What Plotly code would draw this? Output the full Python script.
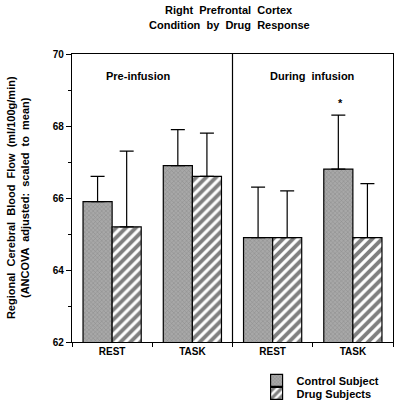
import plotly.graph_objects as go

conditions = ["REST", "TASK", "REST", "TASK"]
control_means = [65.9, 66.9, 64.9, 66.8]
control_err = [0.7, 1.0, 1.4, 1.5]
drug_means = [65.2, 66.6, 64.9, 64.9]
drug_err = [2.1, 1.2, 1.3, 1.5]
series_names = ["Control Subject", "Drug Subjects"]
phase_labels = ["Pre-infusion", "During  infusion"]
title_lines = ["Right  Prefrontal  Cortex", "Condition  by  Drug  Response"]

FONT = "Liberation Sans, Arial, Helvetica, sans-serif"
xpos = list(range(len(conditions)))

fig = go.Figure()
fig.add_trace(go.Bar(
    x=xpos, y=control_means, name=series_names[0], legend="legend",
    marker=dict(color="#959595", line=dict(color="black", width=1.2),
                pattern=dict(shape="x", fgcolor="#6a6a6a", bgcolor="#a8a8a8", size=3, solidity=0.3)),
    error_y=dict(type="data", symmetric=False, array=control_err, arrayminus=[0]*4,
                 color="black", thickness=1.2, width=7),
))
fig.add_trace(go.Bar(
    x=xpos, y=drug_means, name=series_names[1], legend="legend2",
    marker=dict(color="white", line=dict(color="black", width=1.2),
                pattern=dict(shape="/", fgcolor="black", bgcolor="white", size=7, solidity=0.55)),
    error_y=dict(type="data", symmetric=False, array=drug_err, arrayminus=[0]*4,
                 color="black", thickness=1.2, width=7),
))

legfont = dict(family=FONT, size=11, color="black", weight="bold")
fig.update_layout(
    width=400, height=411,
    margin=dict(l=72, r=7, t=54, b=69, autoexpand=False),
    paper_bgcolor="white", plot_bgcolor="white",
    barmode="group", bargap=0.275, bargroupgap=0,
    font=dict(family=FONT, size=10, color="black", weight="bold"),
    showlegend=True,
    legend=dict(x=0.575, y=-0.083, xanchor="left", yanchor="top", font=legfont,
                itemwidth=30, bgcolor="rgba(0,0,0,0)"),
    legend2=dict(x=0.575, y=-0.128, xanchor="left", yanchor="top", font=legfont,
                 itemwidth=30, bgcolor="rgba(0,0,0,0)"),
)
fig.update_xaxes(
    range=[-0.5, 3.5], tickvals=xpos, ticktext=conditions, ticks="",
    showline=True, linecolor="black", linewidth=1.2, mirror=True,
    showgrid=False, zeroline=False,
    minor=dict(tick0=0.5, dtick=1, ticks="outside", ticklen=4, tickcolor="black", showgrid=False),
    tickfont=dict(family=FONT, size=10, color="black", weight="bold"),
)
fig.update_yaxes(
    range=[62, 70], tickvals=[62, 64, 66, 68, 70], ticks="outside", ticklen=5,
    tickcolor="black", showline=True, linecolor="black", linewidth=1.2, mirror=True,
    showgrid=False, zeroline=False,
    minor=dict(dtick=1, tick0=62, ticks="outside", ticklen=3, tickcolor="black", showgrid=False),
    tickfont=dict(family=FONT, size=10, color="black", weight="bold"),
)
fig.add_shape(type="line", xref="x", yref="paper", x0=1.5, x1=1.5, y0=0, y1=1,
              line=dict(color="black", width=1.2))

# title lines
fig.add_annotation(x=0.49, y=1.153, xref="paper", yref="paper", text=title_lines[0],
                   showarrow=False, xanchor="center", yanchor="middle",
                   font=dict(family=FONT, size=11, weight="bold"))
fig.add_annotation(x=0.49, y=1.1007, xref="paper", yref="paper", text=title_lines[1],
                   showarrow=False, xanchor="center", yanchor="middle",
                   font=dict(family=FONT, size=11, weight="bold"))

fig.add_annotation(x=-0.1, y=69.39, xref="x", yref="y", text=phase_labels[0], showarrow=False,
                   xanchor="left", font=dict(family=FONT, size=11, weight="bold"))
fig.add_annotation(x=1.94, y=69.39, xref="x", yref="y", text=phase_labels[1], showarrow=False,
                   xanchor="left", font=dict(family=FONT, size=11, weight="bold"))
fig.add_annotation(x=2.84, y=68.64, xref="x", yref="y",
                   text="*", showarrow=False, font=dict(family=FONT, size=11, weight="bold"))
fig.add_annotation(x=-0.168, y=0.5, xref="paper", yref="paper", xanchor="center", yanchor="middle",
                   text="Regional  Cerebral  Blood  Flow  (ml/100g/min)<br>(ANCOVA  adjusted:  scaled  to  mean)",
                   textangle=-90, showarrow=False,
                   font=dict(family=FONT, size=11, weight="bold"))

fig.write_html("out.html", config={"displayModeBar": False})

# remove the browser's default 8px body margin so the figure sits at the page origin
with open("out.html", "r", encoding="utf-8") as f:
    html = f.read()
html = html.replace("<head>", "<head><style>html,body{margin:0;padding:0;}</style>", 1)
with open("out.html", "w", encoding="utf-8") as f:
    f.write(html)
